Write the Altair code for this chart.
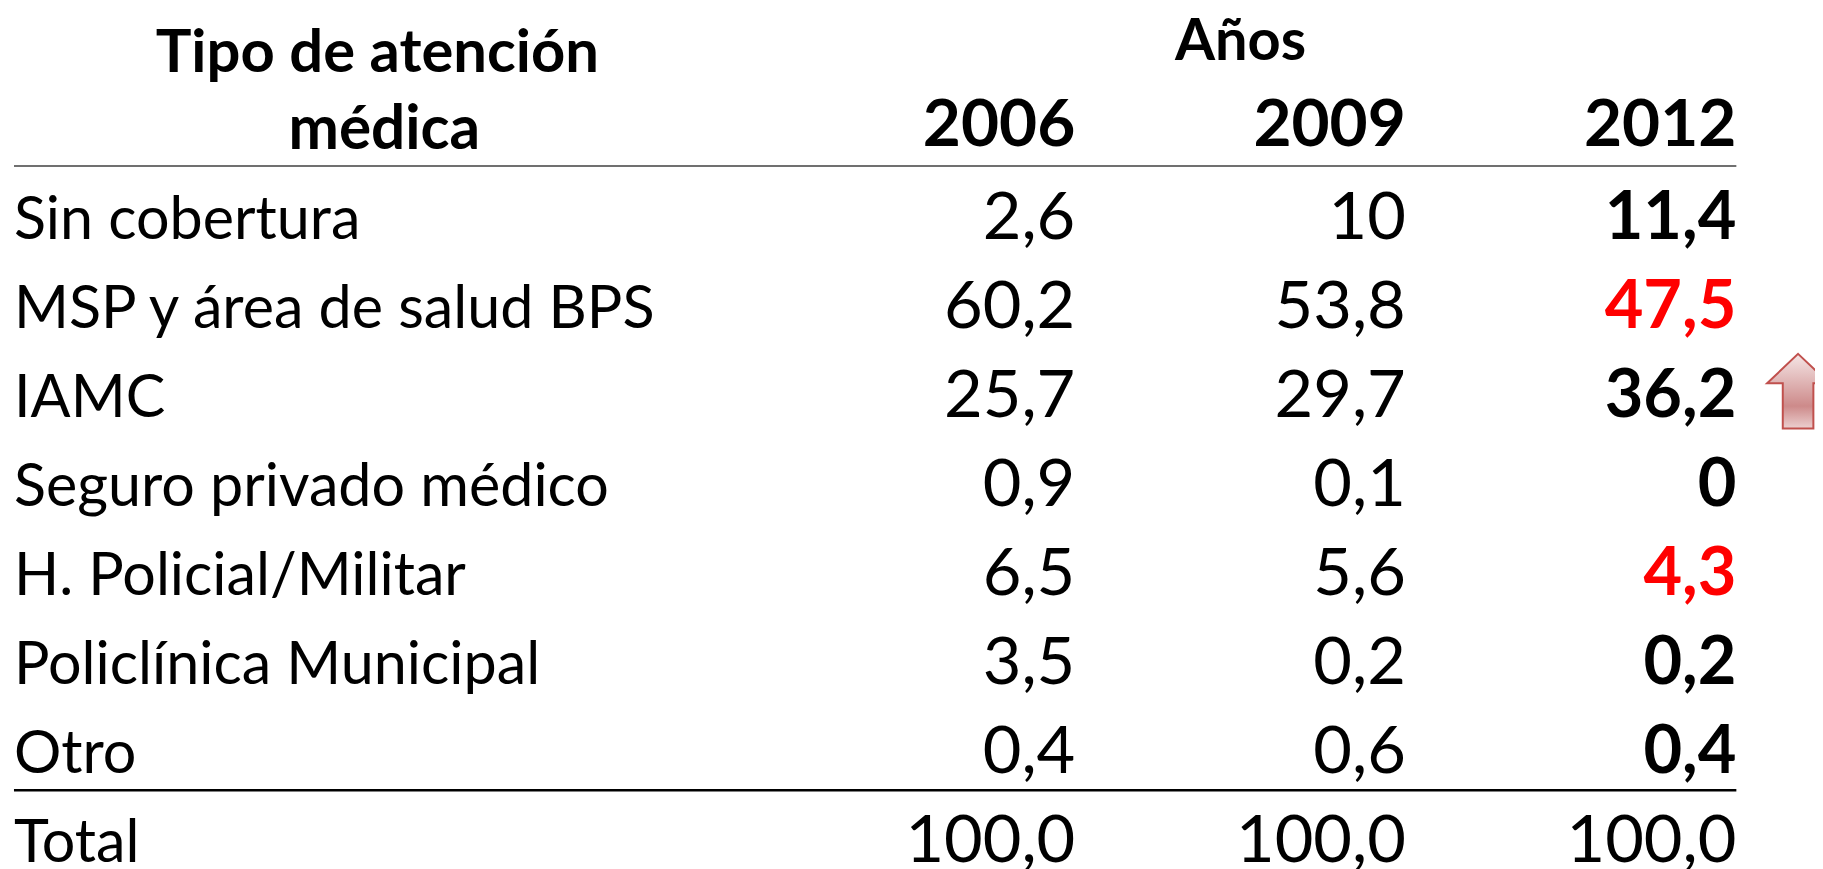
import altair as alt
import pandas as pd

rows = ["Sin cobertura", "MSP y área de salud BPS", "IAMC", "Seguro privado médico",
        "H. Policial/Militar", "Policlínica Municipal", "Otro", "Total"]
v2006 = ["2,6", "60,2", "25,7", "0,9", "6,5", "3,5", "0,4", "100,0"]
v2009 = ["10", "53,8", "29,7", "0,1", "5,6", "0,2", "0,6", "100,0"]
v2012 = ["11,4", "47,5", "36,2", "0", "4,3", "0,2", "0,4", "100,0"]
red_2012 = ["MSP y área de salud BPS", "H. Policial/Militar"]
years = ["2006", "2009", "2012"]

FONT = "Lato"
FS = 67
W, H = 1815, 861

long = []
for r, a, b, c in zip(rows, v2006, v2009, v2012):
    long.append(dict(row=r, col="2006", val=a, kind="n"))
    long.append(dict(row=r, col="2009", val=b, kind="n"))
    kind = "n" if r == "Total" else ("r" if r in red_2012 else "b")
    long.append(dict(row=r, col="2012", val=c, kind=kind))
df = pd.DataFrame(long)

x = alt.X("col:N", scale=alt.Scale(type="point", domain=years, range=[1072, 1736], padding=0), axis=None)
y_val = alt.Y("row:N", scale=alt.Scale(type="point", domain=rows, range=[227, 854], padding=0), axis=None)
y_lab = alt.Y("row:N", scale=alt.Scale(type="point", domain=rows, range=[230, 856], padding=0), axis=None)

def cells(kind, color, weight):
    return alt.Chart(df[df.kind == kind]).mark_text(
        font=FONT, fontSize=FS, fontWeight=weight, align="right", baseline="alphabetic",
        color=color
    ).encode(x=x, y=y_val, text="val:N")

labels = alt.Chart(pd.DataFrame({"row": rows})).mark_text(
    font=FONT, fontSize=59.5, align="left", baseline="alphabetic", color="black"
).encode(x=alt.value(6), y=y_lab, text="row:N")

head = alt.Chart(pd.DataFrame({"col": years})).mark_text(
    font=FONT, fontSize=66, fontWeight="bold", align="right", baseline="alphabetic", color="black"
).encode(x=x, y=alt.value(137), text="col:N")

def title(txt, px, py, size):
    return alt.Chart(pd.DataFrame({"t": [txt]})).mark_text(
        font=FONT, fontSize=size, fontWeight="bold", align="center", baseline="alphabetic", color="black"
    ).encode(x=alt.value(px), y=alt.value(py), text="t:N")

rule_top = alt.Chart(pd.DataFrame({"a": [0]})).mark_rule(color="#404040", strokeWidth=1.5).encode(
    x=alt.value(6), x2=alt.value(1736), y=alt.value(156.7))
rule_bot = alt.Chart(pd.DataFrame({"a": [0]})).mark_rule(color="black", strokeWidth=2.5).encode(
    x=alt.value(6), x2=alt.value(1736), y=alt.value(783.7))

arrow_path = "M0,-1 L0.83,-0.21 L0.41,-0.21 L0.41,1 L-0.41,1 L-0.41,-0.21 L-0.83,-0.21 Z"
arrow = alt.Chart(pd.DataFrame({"row": ["IAMC"]})).mark_point(
    shape=arrow_path, size=5625, filled=True, strokeWidth=2, stroke="#c0504d", opacity=1,
    fill=alt.Gradient(gradient="linear", x1=0, y1=0, x2=0, y2=1, stops=[
        alt.GradientStop(offset=0, color="#f5e6e6"),
        alt.GradientStop(offset=0.7, color="#cd8a8a"),
        alt.GradientStop(offset=1, color="#ecd0d0"),
    ])
).encode(x=alt.value(1798), y=alt.value(383))

chart = alt.layer(
    rule_top, rule_bot, labels, head,
    title("Tipo de atención", 371, 62, 60),
    title("médica", 378, 140, 60.5),
    title("Años", 1238, 50, 58),
    cells("n", "black", "normal"), cells("b", "black", "bold"), cells("r", "#ff0000", "bold"),
    arrow,
).properties(width=W, height=H, padding=0, background="white",
             autosize=alt.AutoSizeParams(type="none")
).configure_view(stroke=None)

chart.save("out.html", embed_options={"renderer": "svg", "actions": False})
